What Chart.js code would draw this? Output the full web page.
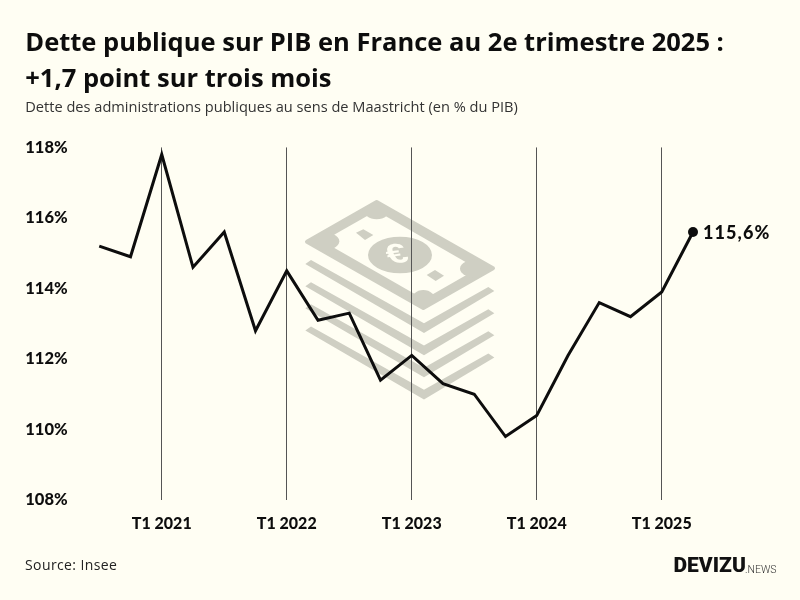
<!DOCTYPE html>
<html><head><meta charset="utf-8">
<script src="https://cdn.jsdelivr.net/npm/chart.js@4"></script>
<style>
html,body{margin:0;padding:0;background:#fffef3;}
canvas{position:absolute;left:0;top:0;}
</style></head>
<body>
<canvas id="c" width="800" height="600"></canvas>
<script>
const quarters=["T3 2020","T4 2020","T1 2021","T2 2021","T3 2021","T4 2021","T1 2022","T2 2022","T3 2022","T4 2022","T1 2023","T2 2023","T3 2023","T4 2023","T1 2024","T2 2024","T3 2024","T4 2024","T1 2025","T2 2025"];
const debtValues=[115.2,114.9,117.8,114.6,115.6,112.8,114.5,113.1,113.3,111.4,112.1,111.3,111.0,109.8,110.4,112.1,113.6,113.2,113.9,115.6];
const yTicks=[108,110,112,114,116,118];
const titleLines=["Dette publique sur PIB en France au 2e trimestre 2025 :","+1,7 point sur trois mois"];
const subtitleText="Dette des administrations publiques au sens de Maastricht (en % du PIB)";
const sourceText="Source: Insee";
const lastLabel="115,6%";
const BG="#fffef3", INK="#0d0d0d", WM="#cfcfc3";

const background={id:"background",beforeDraw(ch){
  const c=ch.ctx;c.save();c.fillStyle=BG;c.fillRect(0,0,800,600);
  c.translate(280,180);c.scale(1/3,1/3);
  const path=pts=>{c.beginPath();pts.forEach((p,i)=>i?c.lineTo(p[0],p[1]):c.moveTo(p[0],p[1]));c.closePath();};
  const poly=(pts,col)=>{path(pts);c.fillStyle=col;c.fill();};
  const ell=(x,y,rx,ry,col)=>{c.beginPath();c.ellipse(x,y,rx,ry,0,0,Math.PI*2);c.fillStyle=col;c.fill();};
  c.lineJoin="round";c.strokeStyle=WM;c.lineWidth=12;
  const outer=[[290,66],[81,185],[430,384],[639,265]];
  path(outer);c.stroke();c.fillStyle=WM;c.fill();
  poly([[289,92],[128,184],[432,358],[592,266]],BG);
  c.save();path(outer);c.clip();
  ell(290,85,42,33,WM);ell(118,184,60,30,WM);ell(602,266,62,30,WM);ell(430,365,38,35,WM);
  c.restore();
  ell(360,225,96,55,WM);
  poly([[228,158],[250,148],[280,165],[255,180]],WM);
  poly([[440,285],[465,270],[492,287],[467,303]],WM);
  for(let i=0;i<4;i++){const d=i*66.5;
    poly([[76,252+d],[93,240+d],[432,430+d],[625,321+d],[643,333+d],[432,459+d]],WM);}
  c.save();c.translate(352,226);c.transform(1.1,-0.15,0.35,0.8,0,0);
  c.fillStyle=BG;c.font="bold 100px 'Liberation Sans'";c.textAlign="center";c.textBaseline="middle";c.fillText("€",0,0);c.restore();
  c.restore();
}};
const extras={id:"extras",afterDatasetsDraw(ch){
  const c=ch.ctx;
  c.save();c.fillStyle=INK;c.textBaseline="middle";c.textAlign="left";
  c.letterSpacing="1.1px";
  c.font="900 18px Lato";c.fillText(lastLabel,703,233.5);
  c.letterSpacing="0.4px";
  c.fillStyle="#222";c.font="14px 'Open Sans'";c.fillText(sourceText,25,566);
  c.letterSpacing="0px";
  c.fillStyle="#111";c.font="900 21px Roboto";c.fillText("DEVIZU",673.5,566.5);
  c.fillStyle="#333";c.font="300 10.5px Roboto";c.fillText(".NEWS",745,570);
  c.restore();
}};
new Chart(document.getElementById("c"),{
  type:"line",
  data:{labels:quarters,datasets:[{data:debtValues,borderColor:INK,borderWidth:3,tension:0,borderJoinStyle:"miter",borderCapStyle:"butt",clip:false,
    pointRadius:ctx=>ctx.dataIndex===debtValues.length-1?5:0,pointHoverRadius:0,pointBackgroundColor:INK,pointBorderWidth:0}]},
  plugins:[background,extras],
  options:{responsive:false,animation:false,devicePixelRatio:1,
    layout:{padding:{left:25.25,right:0,top:0,bottom:0}},
    plugins:{legend:{display:false},tooltip:{enabled:false},
      title:{display:true,align:"start",text:titleLines,color:INK,font:{family:"Open Sans",weight:"700",size:25.5,lineHeight:1.41},padding:{top:26,bottom:1}},
      subtitle:{display:true,align:"start",text:subtitleText,color:"#333",font:{family:"Open Sans",size:14.6,lineHeight:1.2},padding:{top:0,bottom:31}}},
    scales:{
      x:{type:"category",offset:false,
        grid:{drawTicks:false,color:ctx=>String(quarters[ctx.index]).startsWith("T1")?"#555":"rgba(0,0,0,0)",lineWidth:1},
        border:{display:false},
        ticks:{autoSkip:false,maxRotation:0,minRotation:0,padding:14,color:INK,font:{family:"Lato",weight:"900",size:16},
          callback(v,i){return quarters[i].startsWith("T1")?quarters[i]:"";}},
        afterFit(s){s.height=100;}},
      y:{min:108,max:118,
        grid:{display:false},border:{display:false},
        afterBuildTicks(s){s.ticks=yTicks.map(v=>({value:v}));},
        ticks:{crossAlign:"far",color:INK,font:{family:"Lato",weight:"900",size:16.5},callback:v=>v+"%"},
        afterFit(s){s.width=74;}},
      yRightGutter:{type:"linear",position:"right",min:108,max:118,
        grid:{display:false},border:{display:false},ticks:{display:false},
        afterFit(s){s.width=107;}}
    }}
});
</script>
</body></html>
